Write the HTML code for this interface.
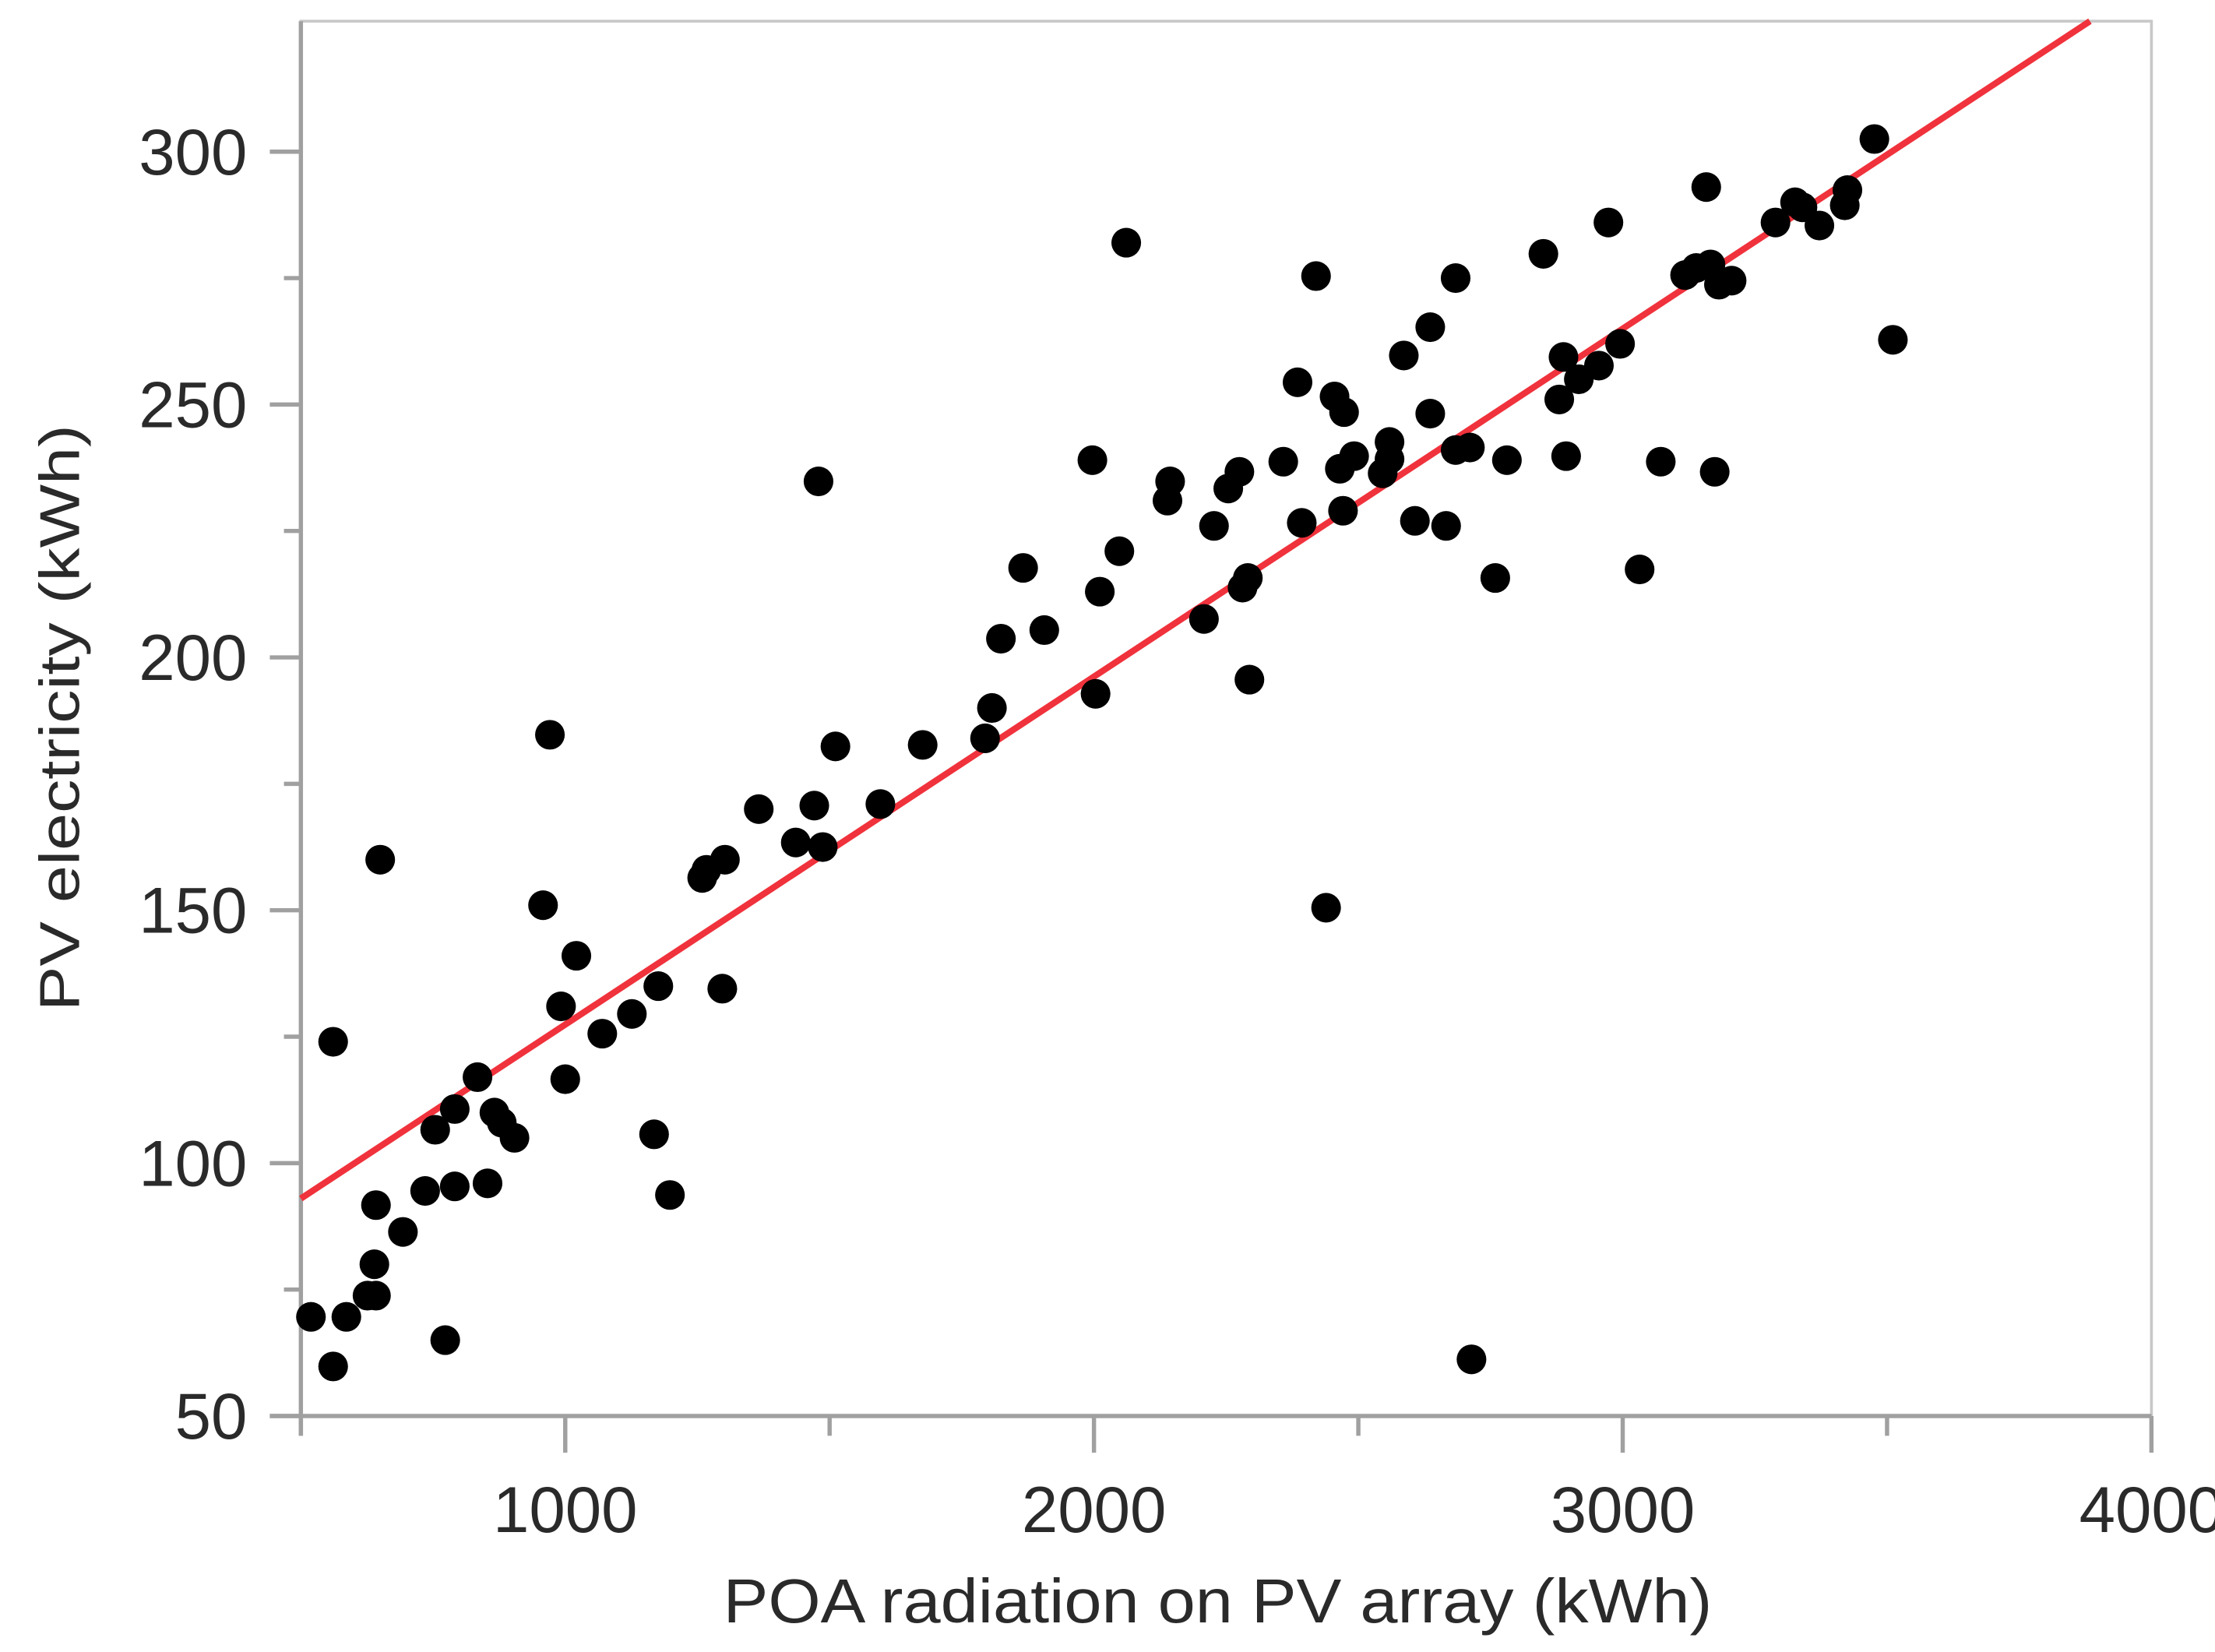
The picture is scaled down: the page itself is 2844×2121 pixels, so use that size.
<!DOCTYPE html>
<html><head><meta charset="utf-8"><style>
html,body{margin:0;padding:0;background:#fff;}
svg{display:block;}
text{font-family:"Liberation Sans",sans-serif;fill:#2a2a2a;}
</style></head><body>
<svg width="2844" height="2121" viewBox="0 0 1568 1169" preserveAspectRatio="none" xmlns="http://www.w3.org/2000/svg">
<g id="axes"></g>
<g id="marks"></g>
<text x="862" y="1148" text-anchor="middle" font-size="44" textLength="700" lengthAdjust="spacingAndGlyphs">POA radiation on PV array (kWh)</text>
<text transform="translate(56,508) rotate(-90)" text-anchor="middle" font-size="40" textLength="415" lengthAdjust="spacingAndGlyphs">PV electricity (kWh)</text>
</svg>
<script>
const xVals=[519,561,561,586,626,642,639,642,650,693,735,754,773,791,791,834,853,866,880,904,958,971,992,1000,1021,1070,1126,1168,1176,1198,1259,1267,1297,1302,1366,1436,1471,1479,1487,1511,1596,1676,1794,1807,1824,1866,1906,1997,2003,2011,2048,2061,2139,2144,2208,2227,2254,2275,2281,2291,2294,2358,2385,2393,2420,2439,2455,2465,2473,2471,2492,2546,2559,2559,2586,2607,2636,2636,2666,2684,2684,2711,2714,2759,2781,2850,2880,2888,2893,2917,2955,2973,2995,3032,3072,3118,3139,3158,3166,3174,3182,3206,3289,3326,3340,3372,3420,3425,3476,3511];
const yVals=[69.6,59.8,124,69.6,73.8,73.8,80,91.7,160,86.4,94.5,106.6,65,110.7,95.4,117,96,110,108,105,151,184.7,131,116.6,141,125.6,129.5,105.7,135,93.7,156.4,158,134.5,160,170,163.4,170.7,234.8,162.5,182.4,171,182.7,184,190,203.7,217.7,205.4,239,192.8,213,221,282,231,234.8,207.6,226,233.4,236.7,213.8,215.7,195.6,238.7,254.4,226.6,275.4,150.5,251.6,237.3,248.5,229,239.8,236.4,242.6,239.2,259.7,227,265.3,248.2,226,275,241,241.5,61.2,215.7,239,279.8,251,259.4,239.8,255,257.7,286,262,217.4,238.7,275.6,277,293,277.7,236.7,273.7,274.5,286,290,289,285.4,289.4,292.4,302.5,262.8];
const xTicks=[1000,2000,3000,4000];
const xMinor=[500,1500,2500,3500];
const yTicks=[50,100,150,200,250,300];
const yMinor=[75,125,175,225,275];
const fitSlope=0.0688, fitIntercept=58.6;
const X0=500,X1=4000,Y0=50,Y1=325.8;
const L=213,R=1523,T=15,B=1002;
const sx=v=>L+(v-X0)/(X1-X0)*(R-L);
const sy=v=>B-(v-Y0)/(Y1-Y0)*(B-T);
const NS='http://www.w3.org/2000/svg';
function mk(tag,attrs,parent){const e=document.createElementNS(NS,tag);for(const k in attrs)e.setAttribute(k,attrs[k]);parent.appendChild(e);return e;}
const ax=document.getElementById('axes'), mg=document.getElementById('marks');
const frame=mk('rect',{x:L,y:T,width:R-L,height:B-T,fill:'none',stroke:'#c8c8c8','stroke-width':2},ax);


const xl=mk('line',{x1:L-22,y1:B,x2:R,y2:B,stroke:'#a0a0a0','stroke-width':3},ax);


const yl=mk('line',{x1:L,y1:T,x2:L,y2:B+14,stroke:'#a0a0a0','stroke-width':3},ax);


xTicks.forEach(v=>{
  const t=mk('line',{x1:sx(v),y1:B,x2:sx(v),y2:B+26,stroke:'#a0a0a0','stroke-width':3},ax);
  
  
  const tx=mk('text',{x:sx(v),y:B+82,'text-anchor':'middle','font-size':46},ax);
  tx.textContent=v;
  
  
});
xMinor.forEach(v=>{
  const t=mk('line',{x1:sx(v),y1:B,x2:sx(v),y2:B+14,stroke:'#a0a0a0','stroke-width':3},ax);
  
  
});
yTicks.forEach(v=>{
  const t=mk('line',{x1:L-22,y1:sy(v),x2:L,y2:sy(v),stroke:'#a0a0a0','stroke-width':3},ax);
  
  
  const tx=mk('text',{x:L-38,y:sy(v)+16,'text-anchor':'end','font-size':46},ax);
  tx.textContent=v;
  
  
});
yMinor.forEach(v=>{
  const t=mk('line',{x1:L-12,y1:sy(v),x2:L,y2:sy(v),stroke:'#a0a0a0','stroke-width':3},ax);
  
  
});
const xEnd=(Y1-fitIntercept)/fitSlope;
const fit=mk('line',{x1:sx(X0),y1:sy(fitIntercept+fitSlope*X0),x2:sx(Math.min(X1,xEnd)),y2:sy(fitIntercept+fitSlope*Math.min(X1,xEnd)),stroke:'#f0323c','stroke-width':4.5},mg);


xVals.forEach((v,i)=>{
  const c=mk('circle',{cx:sx(v),cy:sy(yVals[i]),r:10.5,fill:'#000'},mg);
  
  
});
</script>
</body></html>
